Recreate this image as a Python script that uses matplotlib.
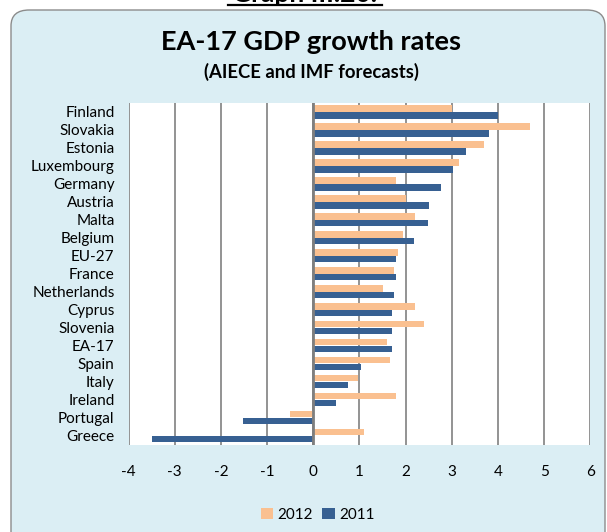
import numpy as np
import matplotlib
matplotlib.use("Agg")
import matplotlib.pyplot as plt
from matplotlib.patches import FancyBboxPatch
from matplotlib.lines import Line2D

plt.rcParams['font.family'] = ['Lato', 'DejaVu Sans']

countries = ["Finland", "Slovakia", "Estonia", "Luxembourg", "Germany", "Austria",
             "Malta", "Belgium", "EU-27", "France", "Netherlands", "Cyprus",
             "Slovenia", "EA-17", "Spain", "Italy", "Ireland", "Portugal", "Greece"]
g2012 = [3.0, 4.7, 3.7, 3.15, 1.8, 2.0, 2.2, 1.95, 1.83, 1.75, 1.5, 2.2,
         2.4, 1.6, 1.66, 0.96, 1.8, -0.5, 1.1]
g2011 = [4.0, 3.8, 3.3, 3.03, 2.76, 2.5, 2.48, 2.18, 1.8, 1.8, 1.75, 1.7,
         1.7, 1.7, 1.03, 0.76, 0.5, -1.52, -3.5]
xticks = [-4, -3, -2, -1, 0, 1, 2, 3, 4, 5, 6]

W, H = 607, 532
fig = plt.figure(figsize=(W / 100, H / 100), dpi=100)
fig.patch.set_facecolor("white")

# rounded light blue frame
box = FancyBboxPatch((11 / W, -30 / H), 594 / W, (30 + 522) / H,
                     boxstyle="round,pad=0,rounding_size=0.03",
                     transform=fig.transFigure, facecolor="#DBEEF4",
                     edgecolor="#8C8C8C", linewidth=1.0, zorder=-10)
fig.patches.append(box)

# cut-off heading above the frame
fig.text(305 / W, 1 - 2.5 / H, "Graph III.20.", ha="center", va="baseline",
         fontsize=19, fontweight="bold")
fig.add_artist(Line2D([228 / W, 382 / W], [1 - 5 / H, 1 - 5 / H],
                      transform=fig.transFigure, color="black", lw=1.6))

fig.text(311 / W, 1 - 42 / H, "EA-17 GDP growth rates", ha="center", va="center",
         fontsize=19.5, fontweight="bold")
fig.text(311 / W, 1 - 72 / H, "(AIECE and IMF forecasts)", ha="center", va="center",
         fontsize=13.3, fontweight="bold")

ax = fig.add_axes([128.5 / W, 1 - 444.5 / H, (590.4 - 128.5) / W, (444.5 - 103) / H])
ax.set_facecolor("white")

y = np.arange(len(countries))[::-1]
h = 0.36
ax.barh(y + 0.19, g2012, height=h, color="#FAC090", label="2012", zorder=3)
ax.barh(y - 0.19, g2011, height=h, color="#376092", label="2011", zorder=3)

ax.set_xlim(-4, 6)
ax.set_ylim(-0.5, len(countries) - 0.5)
ax.set_xticks(xticks)
ax.set_xticklabels([str(t) for t in xticks])
ax.set_yticks(y)
ax.set_yticklabels(countries)
ax.grid(axis="x", color="#8A8A8A", linewidth=1.3, zorder=1)
ax.axvline(0, color="#7F7F7F", linewidth=2, zorder=4)
for s in ax.spines.values():
    s.set_visible(False)
ax.tick_params(axis="y", length=0, pad=10, labelsize=11)
ax.tick_params(axis="x", length=0, pad=15, labelsize=11)

ax.legend(loc="upper center", bbox_to_anchor=(0.41, -0.145), ncol=2, frameon=False,
          fontsize=11, handlelength=0.8, handleheight=0.8, handletextpad=0.3,
          columnspacing=0.6)

fig.savefig("out.png", dpi=100)
